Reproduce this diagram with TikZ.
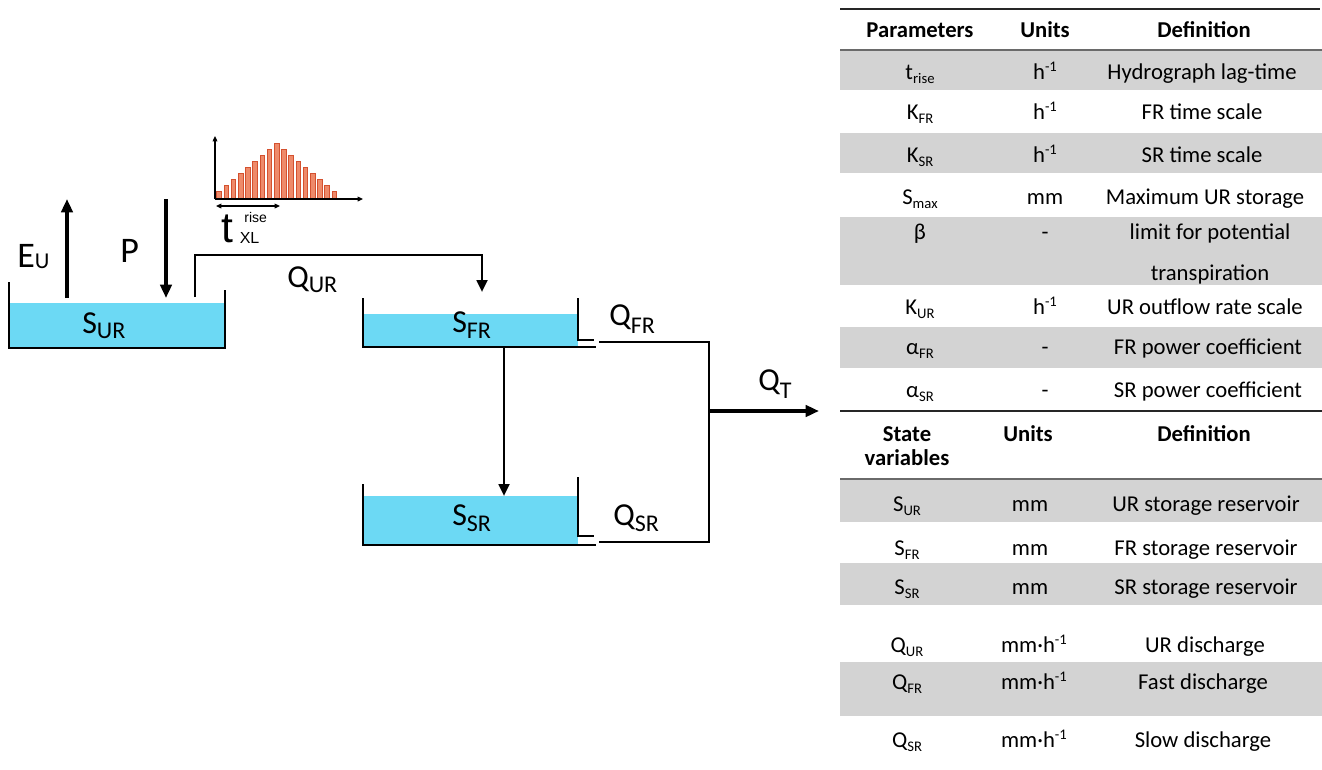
\documentclass[tikz,border=0pt]{standalone}
\usepackage{fontspec}
\setmainfont{Carlito}
\newfontfamily\arialf{Liberation Sans}
\usetikzlibrary{arrows.meta}
\definecolor{water}{HTML}{6CD9F4}
\definecolor{barfill}{HTML}{EE8A6A}
\definecolor{baredge}{HTML}{D4512F}
\definecolor{rowgray}{HTML}{D3D3D3}
\definecolor{rulegray}{HTML}{6A6A6A}
\newcommand\lsub[3]{\raisebox{#1}{\fontsize{#2}{#2}\selectfont #3}}
\newcommand\tsub[1]{\raisebox{-3pt}{\fontsize{11}{11}\selectfont #1}}
\newcommand\tsup[1]{\raisebox{6pt}{\fontsize{11}{11}\selectfont #1}}
\begin{document}
\begin{tikzpicture}[x=0.75pt,y=-0.75pt,
  wall/.style={line width=1.5pt},
  pipe/.style={line width=2pt},
  flow/.style={line width=2.6pt,-{Triangle[length=10pt,width=8.5pt]}},
  thinflow/.style={line width=2pt,-{Triangle[length=9pt,width=8pt]}},
  lbl/.style={inner sep=0pt,anchor=base west,font=\fontsize{24}{24}\selectfont},
  cell/.style={inner sep=0pt,anchor=base,font=\fontsize{17}{17}\selectfont},
  hcell/.style={inner sep=0pt,anchor=base,font=\fontsize{17}{17}\selectfont\bfseries},
  band/.style={fill=rowgray,draw=none},
  bar/.style={fill=barfill,draw=baredge,line width=0.6pt},
  axis/.style={line width=0.9pt,-{Triangle[length=4pt,width=3.5pt]}}]
\useasboundingbox (0,0) rectangle (1322,769);
\fill[white] (0,0) rectangle (1322,769);

% ---------------- reservoirs ----------------
\fill[water] (9,303) rectangle (225,348);
\draw[wall] (9,282) -- (9,348) -- (225,348) -- (225,290);
\fill[water] (363,314) rectangle (578,347);
\draw[wall] (363,298) -- (363,347) -- (596,347);
\draw[wall] (578,298) -- (578,340) -- (594,340);
\fill[water] (363,496) rectangle (578,545);
\draw[wall] (363,484) -- (363,545) -- (596,545);
\draw[wall] (578,477) -- (578,536) -- (594,536);

% ---------------- labels ----------------
\node[lbl,font=\fontsize{27}{27}\selectfont] (eu) at (17,267) {E\lsub{-1pt}{17}{U}};
\node[lbl,font=\fontsize{27}{27}\selectfont] (p) at (120,262) {P};
\node[lbl] (sur) at (82,333) {S\lsub{-4pt}{18}{UR}};
\node[lbl] (qur) at (287,287) {Q\lsub{-4pt}{18}{UR}};
\node[lbl] (sfr) at (452,332) {S\lsub{-5pt}{18}{FR}};
\node[lbl] (ssr) at (452,525) {S\lsub{-5pt}{18}{SR}};
\node[lbl] (qfr) at (609,325) {Q\lsub{-6pt}{18}{FR}};
\node[lbl] (qsr) at (613,525) {Q\lsub{-5pt}{18}{SR}};
\node[lbl] (qt) at (758,390) {Q\lsub{-6pt}{18}{T}};

% ---------------- connectors ----------------
\coordinate (eu0) at (67,298);
\coordinate (eu1) at (67,199);
\coordinate (p0) at (166,199);
\coordinate (p1) at (166,298);
\coordinate (qur0) at (195,297);
\coordinate (qurc) at (482,255);
\coordinate (qur1) at (482,292);
\coordinate (fs0) at (504,348);
\coordinate (fs1) at (504,496);
\coordinate (fro) at (599,342);
\coordinate (jt) at (709,342);
\coordinate (jb) at (709,542);
\coordinate (sro) at (599,542);
\coordinate (qt0) at (709,411);
\coordinate (qt1) at (819,411);
\draw[flow] (eu0) -- (eu1);
\draw[flow] (p0) -- (p1);
\draw[thinflow] (qur0) |- (qurc) -- (qur1);
\draw[thinflow] (fs0) -- (fs1);
\draw[pipe] (fro) -- (jt) -- (jb) -- (sro);
\draw[flow] (qt0) -- (qt1);

% ---------------- hydrograph ----------------
\foreach \i in {0,...,16}{
  \pgfmathsetmacro\hh{56*(1-abs(\i-8)/9.2)}
  \draw[bar] ({219+7.2*\i-2.3},199) rectangle ({219+7.2*\i+2.3},{199-\hh});
}
\coordinate (ho) at (215,199);
\coordinate (hy) at (215,136);
\coordinate (hx) at (363,199);
\coordinate (tr0) at (216,206);
\coordinate (tr1) at (280,206);
\draw[axis] (ho) -- (hy);
\draw[axis] (ho) -- (hx);
\draw[line width=0.9pt,{Triangle[length=4pt,width=3.5pt]}-{Triangle[length=4pt,width=3.5pt]}] (tr0) -- (tr1);
\node[inner sep=0pt,anchor=base west,font=\arialf\fontsize{32}{32}\selectfont] (tt) at (221,242)
  {t\kern5pt\raisebox{-0.75pt}{\fontsize{12}{12}\selectfont\rlap{\kern3.5pt\raisebox{15.5pt}{\fontsize{10.5}{10.5}\selectfont rise}}XL}};

% ---------------- table ----------------
\fill[band] (840,50) rectangle (1322,90);
\fill[band] (840,133) rectangle (1322,173);
\fill[band] (840,217) rectangle (1322,285);
\fill[band] (840,327) rectangle (1322,368);
\fill[band] (840,479) rectangle (1322,522);
\fill[band] (840,563) rectangle (1322,605);
\fill[band] (840,662) rectangle (1322,716);
\draw[line width=1.5pt,black!85] (840,9) -- (1320,9);
\draw[line width=1.1pt,rulegray] (840,50) -- (1322,50);
\draw[line width=1.5pt,black!85] (840,411) -- (1322,411);
\draw[line width=1.1pt,rulegray] (840,479) -- (1322,479);

\node[hcell] (h1) at (920,37) {Parameters};
\node[hcell] (h2) at (1045,37) {Units};
\node[hcell] (h3) at (1204,37) {Definition};

\node[cell] (a1) at (920,79) {t\tsub{rise}};
\node[cell] (a2) at (1045,79) {h\tsup{-1}};
\node[cell] (a3) at (1202,79) {Hydrograph lag-time};
\node[cell] (b1) at (920,119) {K\tsub{FR}};
\node[cell] (b2) at (1045,119) {h\tsup{-1}};
\node[cell] (b3) at (1202,119) {FR time scale};
\node[cell] (c1) at (920,162) {K\tsub{SR}};
\node[cell] (c2) at (1045,162) {h\tsup{-1}};
\node[cell] (c3) at (1202,162) {SR time scale};
\node[cell] (d1) at (920,204) {S\tsub{max}};
\node[cell] (d2) at (1045,204) {mm};
\node[cell] (d3) at (1205,204) {Maximum UR storage};
\node[cell] (e1) at (920,239) {β};
\node[cell] (e2) at (1045,239) {-};
\node[cell] (e3) at (1210,239) {limit for potential};
\node[cell] (e4) at (1210,280) {transpiration};
\node[cell] (f1) at (920,314) {K\tsub{UR}};
\node[cell] (f2) at (1045,314) {h\tsup{-1}};
\node[cell] (f3) at (1205,314) {UR outflow rate scale};
\node[cell] (g1) at (920,354) {α\tsub{FR}};
\node[cell] (g2) at (1045,354) {-};
\node[cell] (g3) at (1208,354) {FR power coefficient};
\node[cell] (k1) at (920,397) {α\tsub{SR}};
\node[cell] (k2) at (1045,397) {-};
\node[cell] (k3) at (1208,397) {SR power coefficient};

\node[hcell] (s1) at (907,441) {State};
\node[hcell] (s1b) at (907,465) {variables};
\node[hcell] (s2) at (1028,441) {Units};
\node[hcell] (s3) at (1204,441) {Definition};

\node[cell] (m1) at (907,511) {S\tsub{UR}};
\node[cell] (m2) at (1030,511) {mm};
\node[cell] (m3) at (1206,511) {UR storage reservoir};
\node[cell] (n1) at (907,555) {S\tsub{FR}};
\node[cell] (n2) at (1030,555) {mm};
\node[cell] (n3) at (1206,555) {FR storage reservoir};
\node[cell] (o1) at (907,594) {S\tsub{SR}};
\node[cell] (o2) at (1030,594) {mm};
\node[cell] (o3) at (1206,594) {SR storage reservoir};
\node[cell] (q1) at (907,652) {Q\tsub{UR}};
\node[cell] (q2) at (1034,652) {mm·h\tsup{-1}};
\node[cell] (q3) at (1205,652) {UR discharge};
\node[cell] (r1) at (907,689) {Q\tsub{FR}};
\node[cell] (r2) at (1034,689) {mm·h\tsup{-1}};
\node[cell] (r3) at (1203,689) {Fast discharge};
\node[cell] (u1) at (907,747) {Q\tsub{SR}};
\node[cell] (u2) at (1034,747) {mm·h\tsup{-1}};
\node[cell] (u3) at (1203,747) {Slow discharge};
\end{tikzpicture}
\end{document}
